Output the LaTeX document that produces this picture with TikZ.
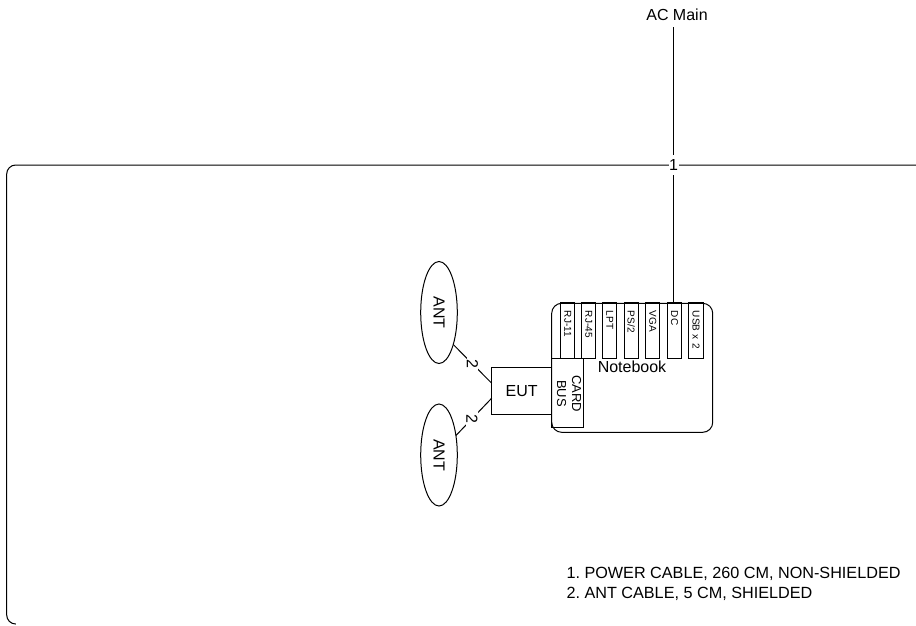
\documentclass[tikz,border=0pt]{standalone}
\usepackage{fontspec}
\setmainfont{Liberation Sans}
\usetikzlibrary{shapes.geometric}
\tikzset{
    box/.style={draw=black, line width=1pt, shape=rectangle, outer sep=0pt},
    antenna/.style={draw=black, line width=1pt, shape=ellipse, minimum width=102pt, minimum height=36.6pt, inner sep=0pt, outer sep=0pt, rotate=-90},
    port/.style={box, rotate=-90, text width=39.7pt, inner xsep=8pt, inner ysep=0pt, minimum height=14.3pt, align=left, font=\fontsize{10}{10}\selectfont},
    wirelabel/.style={fill=white, inner sep=0pt, minimum width=10pt, minimum height=20pt},
    txt/.style={font=\fontsize{16}{16}\selectfont\frenchspacing}
}
\begin{document}
\begin{tikzpicture}[x=1pt, y=-1pt, line width=1pt, color=black, txt]
    \useasboundingbox (0,0) rectangle (916,625);

    % Rahmen.
    \draw[rounded corners=9pt] (916,165) -- (6.7,165) -- (6.7,624) -- (15,624);

    % Notebook.
    \node[box, rounded corners=10pt, minimum width=161pt, minimum height=129pt] (notebook) at (632.2,367.8) {};
    \foreach \x/\name/\txt in {567.8/rj11/RJ-11, 588.7/rj45/RJ-45, 609.8/lpt/LPT, 631.2/pstwo/{PS/2}, 652.8/vga/VGA, 674.5/dc/DC, 696/usb/USB x 2}
    {
        \node[port] (\name) at (\x,330.8) {\txt};
    }
    \node (nblabel) at (632,367) {Notebook};
    \node[box, minimum width=32pt, minimum height=69.4pt] (cardbus) at (567.7,393) {};
    \node[rotate=-90, align=center, inner sep=0pt, font=\fontsize{13}{15}\selectfont] (cardtxt) at (569.2,393.5) {CARD\\BUS};

    % EUT und Antennen.
    \node[box, minimum width=60pt, minimum height=46.7pt, inner sep=0pt] (eut) at (521.7,390.7) {EUT};
    \node[antenna] (anta) at (439,312.5) {ANT};
    \node[antenna] (antb) at (439,455) {ANT};
    \draw (anta.24) -- node[wirelabel, rotate=-90, minimum width=16pt, minimum height=10pt] (cablea) {2} (eut.166);
    \draw (antb.139) -- node[pos=.45, wirelabel, rotate=-90, minimum width=16pt, minimum height=10pt] (cableb) {2} (eut.194);

    % Netzkabel.
    \node (acmain) at (677,15) {AC Main};
    \coordinate (acin) at (673.5,27);
    \draw (acin) -- (acin |- dc.west);
    \node[wirelabel] (cablemain) at (673.5,165) {1};

    % Legende.
    \node[anchor=west, font=\fontsize{16.2}{16.2}\selectfont\frenchspacing] (legenda) at (562.7,574) {1. POWER CABLE, 260 CM, NON-SHIELDED};
    \node[anchor=west, font=\fontsize{16.2}{16.2}\selectfont\frenchspacing] (legendb) at (562.7,593.5) {2. ANT CABLE, 5 CM, SHIELDED};
\end{tikzpicture}
\end{document}
